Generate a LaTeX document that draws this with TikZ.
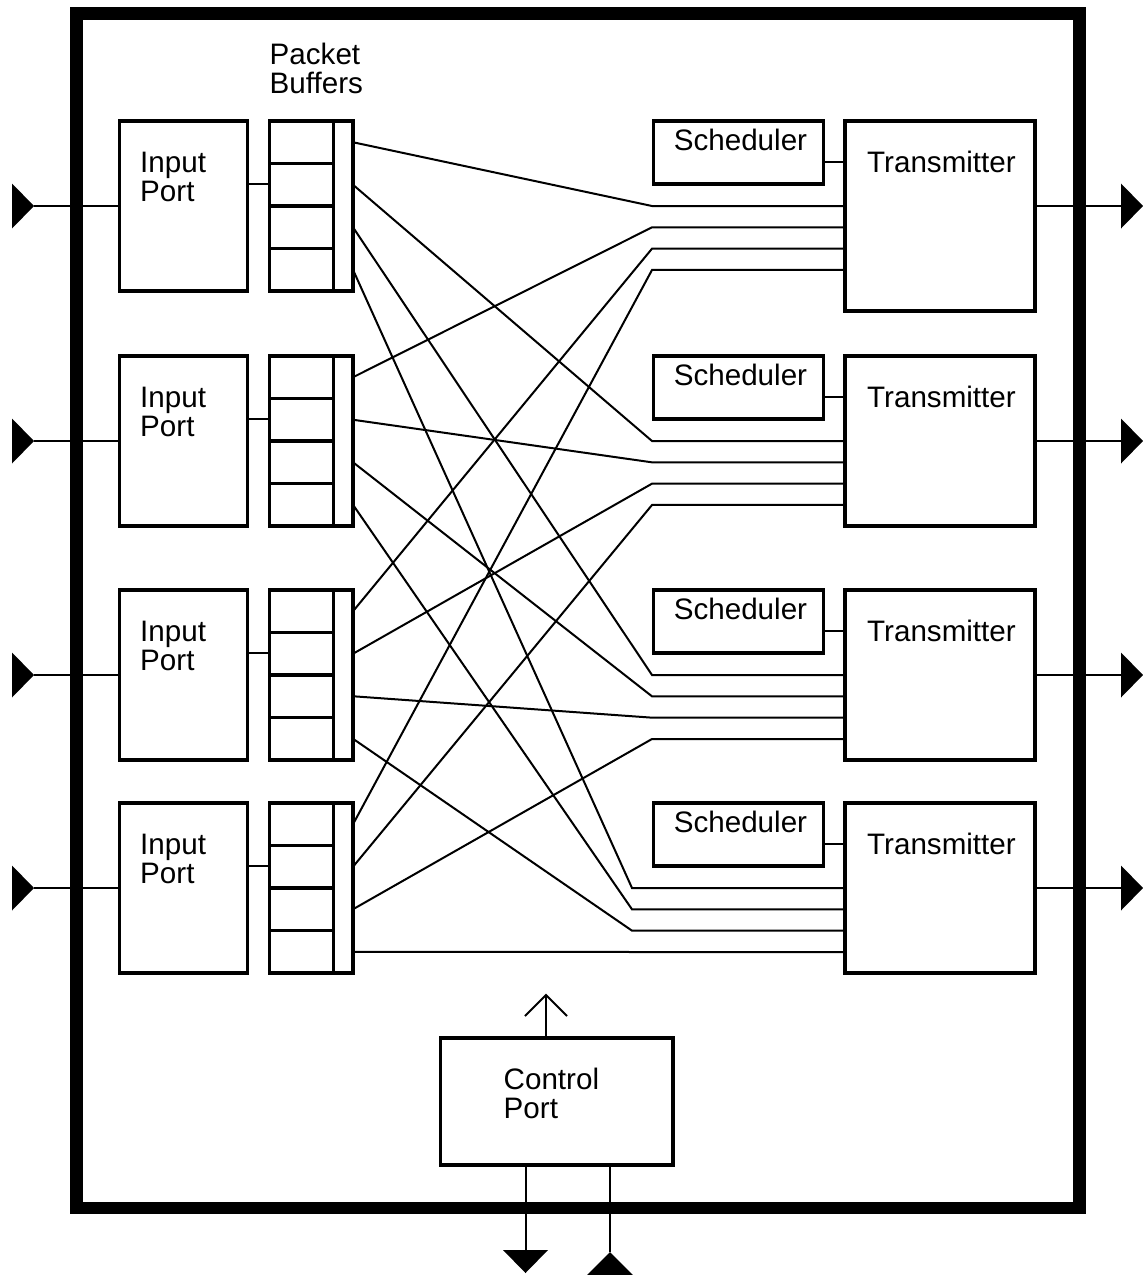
\documentclass[tikz,border=0pt]{standalone}
\usepackage{fontspec}
\setmainfont{Liberation Sans}
\begin{document}
\begin{tikzpicture}[x=1pt,y=-1pt,
  wire/.style={line width=2pt},
  boxstyle/.style={draw, line width=3.6pt, rectangle, inner sep=0pt, outer sep=0pt},
  cellrule/.style={line width=3.2pt},
  % base anchor of a two-line label sits on its last line
  lbl/.style={anchor=base west, inner sep=0pt, align=left,
              font=\fontsize{29.6}{29}\selectfont},
  tipfill/.style={fill=black}
]
\useasboundingbox (0,0) rectangle (1143,1275);

% outer frame of the switch
\node[draw, line width=12.5pt, minimum width=1003pt, minimum height=1194.5pt,
      inner sep=0pt, outer sep=0pt] (frame) at (578,610.75) {};

\node[lbl] (pbtxt) at (269.5,93.3) {Packet\\Buffers};

% input side: port, buffer with four cells
\foreach \r/\T in {1/121, 2/356, 3/590, 4/803} {
  \node[boxstyle, minimum width=128pt, minimum height=170pt] (in\r) at (183.5,\T+85) {};
  \node[lbl] (intxt\r) at (140,\T+80.7) {Input\\Port};
  \node[boxstyle, minimum width=83.5pt, minimum height=170pt] (buf\r) at (311.25,\T+85) {};
  \draw[cellrule] (333.5,\T) -- (333.5,\T+170);
  \foreach \k in {42.5,85,127.5}
    \draw[cellrule] (269.5,\T+\k) -- (333.5,\T+\k);
  % port to buffer
  \coordinate (inc\r) at (0,\T+63);
  \draw[wire] (in\r.east |- inc\r) -- (buf\r.west |- inc\r);
  % incoming link
  \coordinate (inA\r) at (34,\T+85);
  \fill[tipfill] (12,\T+62.5) -- (inA\r) -- (12,\T+107.5) -- cycle;
  \draw[wire] (inA\r) -- (in\r.west |- inA\r);
}

% output side: scheduler and transmitter
\foreach \r/\T/\H in {1/121/190, 2/356/170, 3/590/170, 4/803/170} {
  \node[boxstyle, minimum width=190pt, minimum height=\H pt] (tx\r) at (940,\T+\H/2) {};
  \node[lbl] (txtxt\r) at (867,\T+51.3) {Transmitter};
  \node[boxstyle, minimum width=170pt, minimum height=63pt] (sch\r) at (738.3,\T+31.5) {};
  \node[lbl] (schtxt\r) at (673.6,\T+29) {Scheduler};
  \coordinate (sc\r) at (0,\T+41);
  \draw[wire] (sch\r.east |- sc\r) -- (tx\r.west |- sc\r);
  % outgoing link
  \coordinate (out\r) at (1121,\T+85);
  \draw[wire] (tx\r.east |- out\r) -- (out\r);
  \fill[tipfill] (1121,\T+62.5) -- (1143,\T+85) -- (1121,\T+107.5) -- cycle;
}

% crossbar: cell j of input i feeds transmitter j
\foreach \i/\Ti in {1/121, 2/356, 3/590, 4/803} {
  \foreach \j/\Tj/\kx in {1/121/652, 2/356/652, 3/590/652, 4/803/632} {
    \coordinate (s\i\j) at (353,\Ti+21.25+42.5*\j-42.5);
    \coordinate (k\i\j) at (\kx,\Tj+85+21.33*\i-21.33);
    \draw[wire] (buf\i.east |- s\i\j) -- (k\i\j) -- (tx\j.west |- k\i\j);
  }
}

% control port
\node[boxstyle, minimum width=232.5pt, minimum height=127pt] (ctl) at (556.75,1101.5) {};
\node[lbl] (ctltxt) at (503.5,1118) {Control\\Port};
\coordinate (ctlup) at (546,995);
\draw[wire] (ctl.north -| ctlup) -- (ctlup);
\draw[wire] (525,1016) -- (ctlup) -- (567,1016);
\coordinate (ctlout) at (525.5,1250);
\draw[wire] (ctl.south -| ctlout) -- (ctlout);
\fill[tipfill] (503,1250) -- (548,1250) -- (525.5,1273) -- cycle;
\coordinate (ctlin) at (610,1252);
\draw[wire] (ctlin) -- (ctl.south -| ctlin);
\fill[tipfill] (587,1275) -- (633,1275) -- (ctlin) -- cycle;
\end{tikzpicture}
\end{document}
